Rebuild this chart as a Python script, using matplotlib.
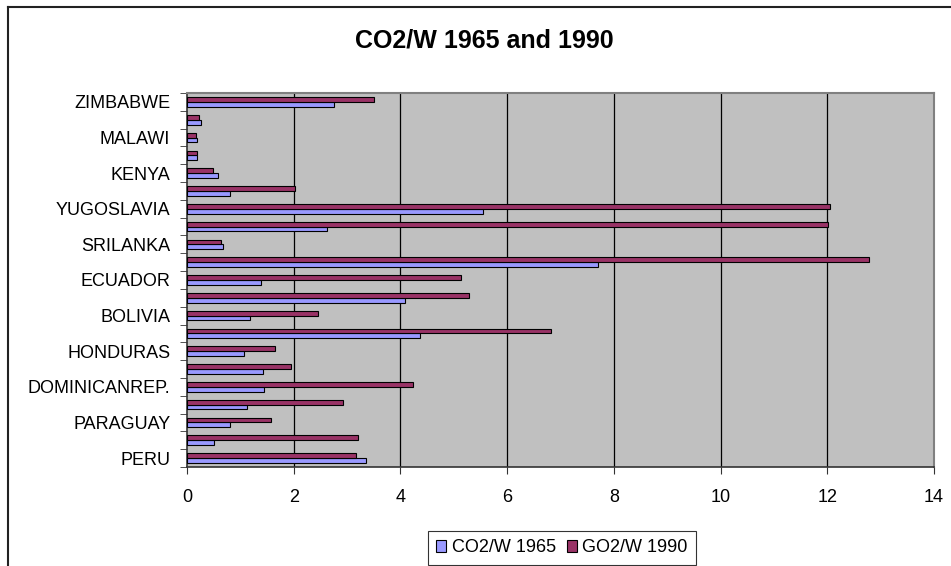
import numpy as np
import matplotlib
matplotlib.use("Agg")
import matplotlib.pyplot as plt
from matplotlib.lines import Line2D

plt.rcParams["font.family"] = ["Liberation Sans", "DejaVu Sans"]

# bottom to top; unlabeled rows are hidden by Excel's label skipping
countries = ["PERU", "", "PARAGUAY", "", "DOMINICANREP.", "", "HONDURAS", "",
             "BOLIVIA", "", "ECUADOR", "", "SRILANKA", "", "YUGOSLAVIA", "",
             "KENYA", "", "MALAWI", "", "ZIMBABWE"]
co2_1965 = [3.36, 0.50, 0.80, 1.13, 1.45, 1.43, 1.07, 4.36, 1.18, 4.09, 1.38,
            7.70, 0.67, 2.62, 5.55, 0.80, 0.58, 0.18, 0.18, 0.27, 2.76]
co2_1990 = [3.16, 3.20, 1.58, 2.93, 4.24, 1.94, 1.65, 6.83, 2.45, 5.29, 5.13,
            12.78, 0.63, 12.02, 12.05, 2.03, 0.49, 0.18, 0.17, 0.22, 3.50]
x_ticks = [0, 2, 4, 6, 8, 10, 12, 14]

fig = plt.figure(figsize=(9.51, 5.66), dpi=100)
ax = fig.add_axes([187 / 951, 1 - 467 / 566, (934 - 187) / 951, (467 - 93) / 566])

y = np.arange(len(countries))
h = 0.27
ax.barh(y - h / 2, co2_1965, height=h, color="#9999FF", edgecolor="black",
        linewidth=0.8, label="CO2/W 1965", zorder=3)
ax.barh(y + h / 2, co2_1990, height=h, color="#993366", edgecolor="black",
        linewidth=0.8, label="GO2/W 1990", zorder=3)

ax.set_facecolor("#C0C0C0")
ax.set_xlim(0, 14)
ax.set_ylim(-0.5, len(countries) - 0.5)
ax.set_xticks(x_ticks)
ax.tick_params(axis="x", direction="out", length=5, labelsize=13, pad=11,
               color="#333333")
for v in x_ticks[1:-1]:
    ax.axvline(v, color="black", linewidth=0.9, zorder=1)

# labels at category centres, tick marks at category boundaries
ax.set_yticks(y)
ax.set_yticklabels(countries, fontsize=13)
ax.tick_params(axis="y", length=0, pad=12)
ax.set_yticks(np.arange(len(countries) + 1) - 0.5, minor=True)
ax.tick_params(axis="y", which="minor", direction="out", length=5, color="#333333")

for side in ["top", "right"]:
    ax.spines[side].set_color("#808080")
    ax.spines[side].set_linewidth(1.5)
for side in ["left", "bottom"]:
    ax.spines[side].set_color("#333333")
    ax.spines[side].set_linewidth(1.2)

fig.text(484 / 951, 1 - 41 / 566, "CO2/W 1965 and 1990", ha="center",
         va="center", fontsize=18, fontweight="bold")

leg = fig.legend(loc="center", bbox_to_anchor=(562 / 951, 1 - 548 / 566),
                 ncol=2, frameon=True, fancybox=False, fontsize=13,
                 handlelength=0.55, handleheight=0.6, handletextpad=0.3,
                 columnspacing=0.6, borderpad=0.45, borderaxespad=0)
leg.get_frame().set_edgecolor("black")
leg.get_frame().set_linewidth(0.8)

# chart-area border
fig.add_artist(Line2D([8 / 951, 8 / 951], [0, 1 - 7 / 566], color="#222222",
                      linewidth=1.5, transform=fig.transFigure))
fig.add_artist(Line2D([8 / 951, 1], [1 - 7 / 566, 1 - 7 / 566], color="#222222",
                      linewidth=1.5, transform=fig.transFigure))

fig.savefig("out.png", dpi=100)
plt.close(fig)
